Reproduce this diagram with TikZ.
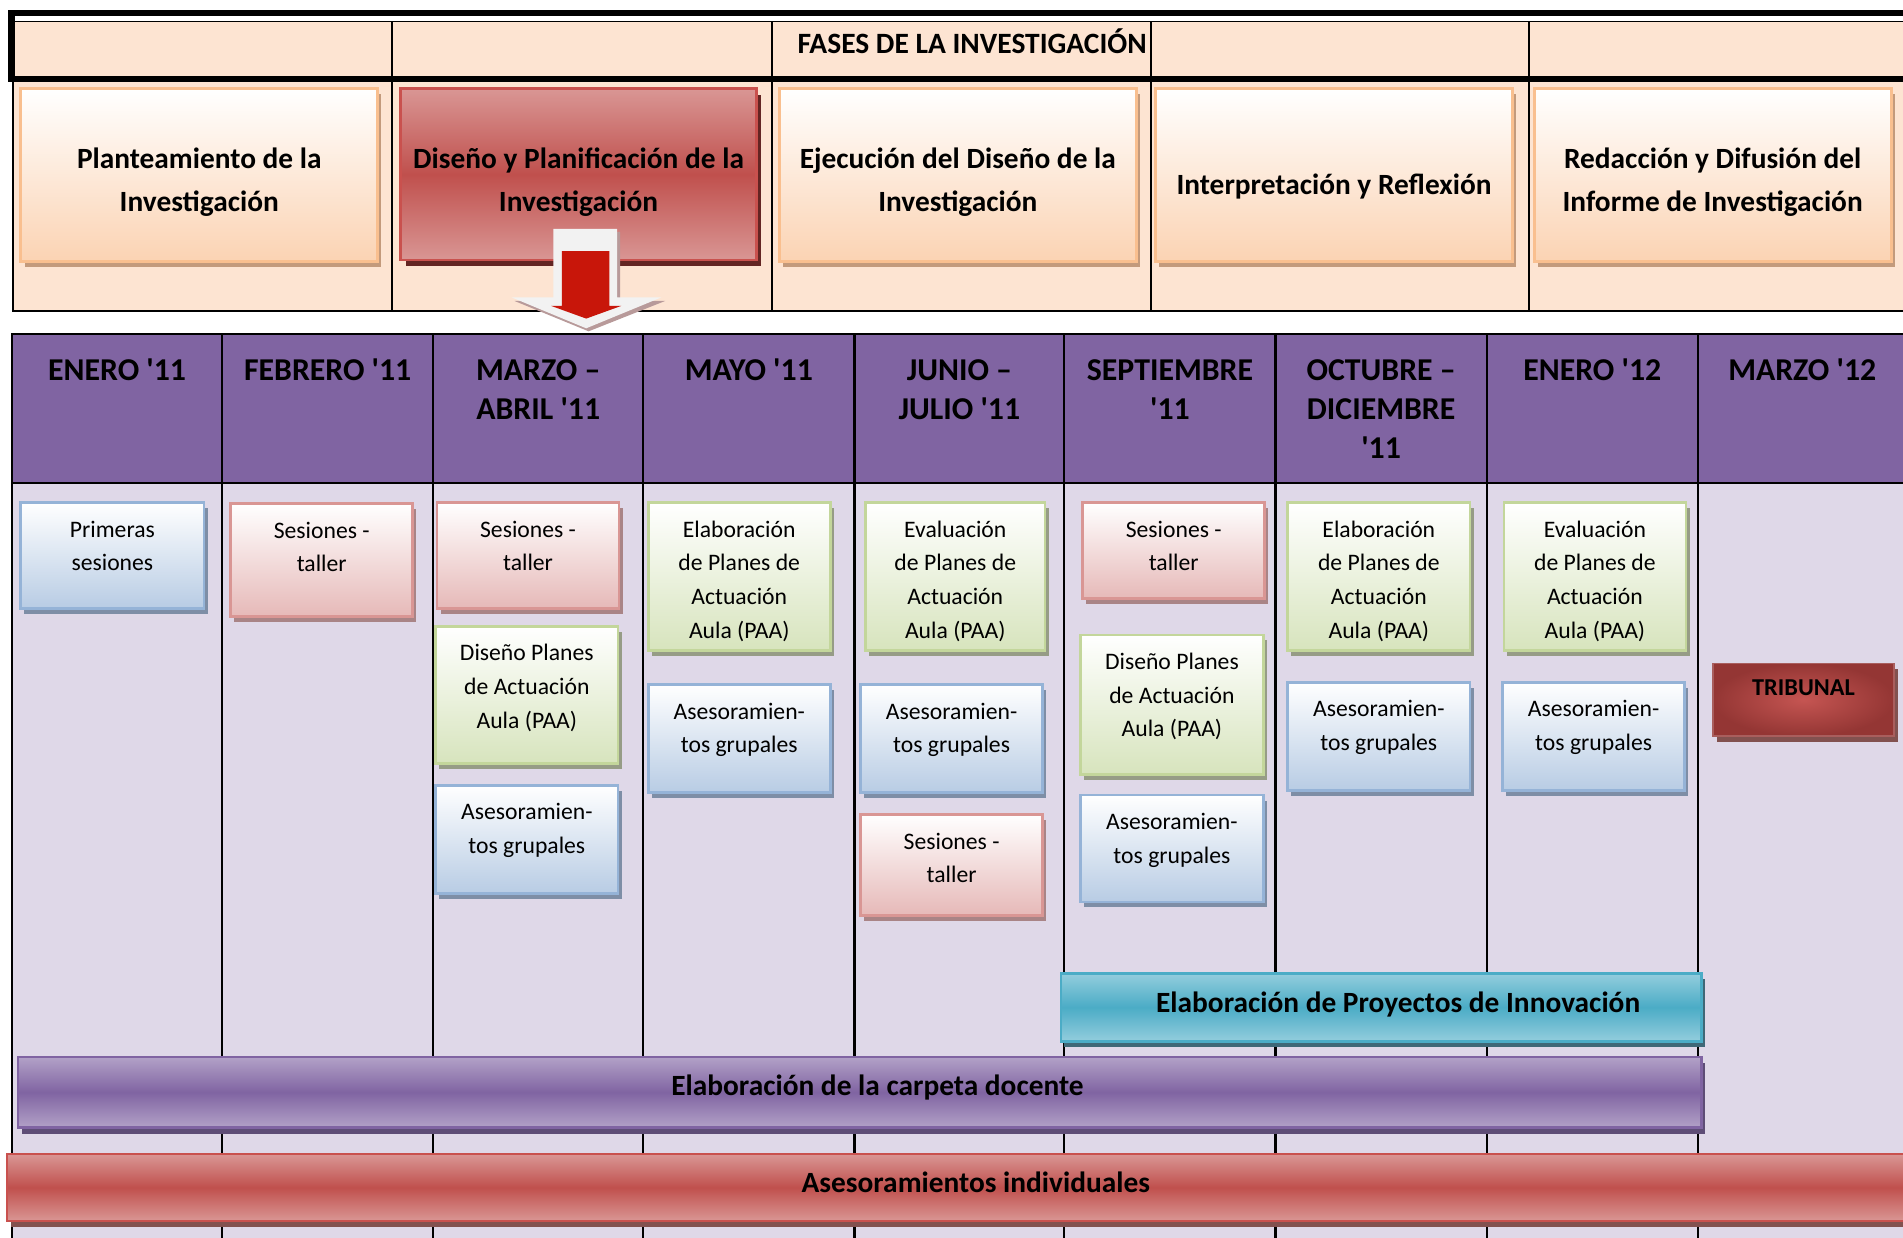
\documentclass[tikz,border=0pt]{standalone}
\usepackage{fontspec}
\setmainfont{Carlito}
\usetikzlibrary{calc,shadows}

% palette
\definecolor{peachfill}{HTML}{FDE4D2}
\definecolor{peachdeep}{HTML}{FBD3B3}
\definecolor{peachline}{HTML}{F9BF8F}
\definecolor{peachshadow}{HTML}{C39A7C}
\definecolor{redlight}{HTML}{D99694}
\definecolor{redmid}{HTML}{C0504D}
\definecolor{redline}{HTML}{C9514E}
\definecolor{redshadow}{HTML}{632523}
\definecolor{purplehead}{HTML}{8064A2}
\definecolor{purplelight}{HTML}{B2A1C7}
\definecolor{purpleshadow}{HTML}{5E4D76}
\definecolor{lavender}{HTML}{DFD8E8}
\definecolor{bluedeep}{HTML}{B8CCE4}
\definecolor{blueline}{HTML}{95B3D7}
\definecolor{blueshadow}{HTML}{7E8EA6}
\definecolor{pinkdeep}{HTML}{E6B9B8}
\definecolor{pinkline}{HTML}{D99694}
\definecolor{pinkshadow}{HTML}{A98486}
\definecolor{greendeep}{HTML}{D7E4BD}
\definecolor{greenline}{HTML}{C3D69B}
\definecolor{greenshadow}{HTML}{969C86}
\definecolor{teallight}{HTML}{93CDDD}
\definecolor{tealmid}{HTML}{4BACC6}
\definecolor{tealshadow}{HTML}{3F6877}
\definecolor{tribouter}{HTML}{943634}
\definecolor{tribinner}{HTML}{C55552}
\definecolor{arrowlight}{HTML}{F2F2F2}
\definecolor{arrowshade}{HTML}{B89A9A}
\definecolor{arrowred}{HTML}{C8160A}

% straight apostrophe for the year abbreviations
\newcommand\yr{\textquotesingle}

% one activity box of the timeline with its centred caption
\newcommand\taskbox[7]{%
  \node[#2, minimum width=#5pt, minimum height=#6pt] (#1) at (#3,#4) {};
  \node[boxtext] (#1-t) at ($(#1.north)+(0,10)$) {\strut #7};
}

\begin{document}
\begin{tikzpicture}[x=1pt,y=-1pt,
  taskbase/.style={draw, line width=2.2pt, inner sep=0pt, anchor=north west},
  bluebox/.style={taskbase, draw=blueline, top color=white, bottom color=bluedeep,
    drop shadow={shadow xshift=3pt, shadow yshift=-4.5pt, fill=blueshadow, opacity=1}},
  pinkbox/.style={taskbase, draw=pinkline, top color=white, bottom color=pinkdeep,
    drop shadow={shadow xshift=3pt, shadow yshift=-4.5pt, fill=pinkshadow, opacity=1}},
  greenbox/.style={taskbase, draw=greenline, top color=white, bottom color=greendeep,
    drop shadow={shadow xshift=3pt, shadow yshift=-4.5pt, fill=greenshadow, opacity=1}},
  boxtext/.style={font=\fontsize{19.5}{27.7}\selectfont, align=center, inner sep=0pt,
    anchor=north},
  phasebox/.style={draw=peachline, line width=2.4pt, inner sep=0pt, anchor=north west,
    top color=white, bottom color=peachdeep,
    drop shadow={shadow xshift=3pt, shadow yshift=-4.5pt, fill=peachshadow, opacity=1}},
  phasecur/.style={draw=redline, line width=2.4pt, inner sep=0pt, anchor=north west,
    top color=redlight, bottom color=redlight, middle color=redmid,
    drop shadow={shadow xshift=4pt, shadow yshift=-5pt, fill=redshadow, opacity=1}},
  phasetext/.style={font=\bfseries\fontsize{24.2}{35}\selectfont, align=center,
    inner sep=0pt, anchor=north},
  monthtext/.style={font=\bfseries\fontsize{26.2}{32}\selectfont, align=center,
    inner sep=0pt, anchor=north},
  barbase/.style={line width=2pt, inner sep=0pt, anchor=north west},
  bartext/.style={font=\bfseries\fontsize{24.2}{28}\selectfont, inner sep=0pt, anchor=base},
  grid/.style={line width=1.8pt, black}
]
\clip (0,0) rectangle (1568,1020);

% ---------- research phases table ----------
\fill[peachfill] (10,17) rectangle (1568,256);
\draw[line width=1.2pt] (10,17.5) -- (1568,17.5);
\draw[line width=1.6pt] (10.5,65) -- (10.5,256) -- (1568,256);
\foreach \cx in {323,636,948,1260}
  \draw[line width=1.6pt] (\cx,17.5) -- (\cx,256);
\draw[line width=5pt, line join=miter] (1568,10.5) -- (9.5,10.5) -- (9.5,65) -- (1568,65);

\node[font=\bfseries\fontsize{24.3}{28}\selectfont, inner sep=0pt, anchor=base]
  (fases) at (801,44) {FASES DE LA INVESTIGACIÓN};

\node[phasebox, minimum width=294pt, minimum height=142pt] (p1) at (16,72) {};
\node[phasecur, minimum width=293pt, minimum height=141pt] (p2) at (329,72) {};
\node[phasebox, minimum width=294pt, minimum height=142pt] (p3) at (641,72) {};
\node[phasebox, minimum width=294pt, minimum height=142pt] (p4) at (951,72) {};
\node[phasebox, minimum width=294pt, minimum height=142pt] (p5) at (1263,72) {};

\node[phasetext] (p1-t) at ($(p1.north)+(0,42.2)$) {\strut Planteamiento de la\\Investigación};
\node[phasetext] (p2-t) at ($(p2.north)+(0,42.2)$) {\strut Diseño y Planificación de la\\Investigación};
\node[phasetext] (p3-t) at ($(p3.north)+(0,42.2)$) {\strut Ejecución del Diseño de la\\Investigación};
\node[font=\bfseries\fontsize{24.2}{35}\selectfont, inner sep=0pt, anchor=base]
  (p4-t) at ($(p4.north)+(0,88)$) {Interpretación y Reflexión};
\node[phasetext] (p5-t) at ($(p5.north)+(0,42.2)$) {\strut Redacción y Difusión del\\Informe de Investigación};

% arrow from the current phase down to the calendar
\fill[arrowshade] (459,191) -- (511,191) -- (511,248) -- (548,248) -- (485,273)
  -- (424,248) -- (459,248) -- cycle;
\fill[arrowlight] (456,188.5) -- (508.5,188.5) -- (508.5,245) -- (545,245)
  -- (483,270.5) -- (421.5,245) -- (456,245) -- cycle;
\fill[arrowred] (463,207) -- (502,207) -- (502,252) -- (512,252) -- (483,262.5)
  -- (454,252) -- (463,252) -- cycle;

% ---------- calendar table ----------
\fill[purplehead] (10,275) rectangle (1568,398);
\fill[lavender] (10,398) rectangle (1568,1020);
\draw[grid] (1568,275) -- (10,275) -- (10,1020);
\draw[grid] (10,398) -- (1568,398);
\foreach \cx in {183,357,530,704,877,1051,1225,1399}
  \draw[grid] (\cx,275) -- (\cx,1020);

\node[monthtext] (m1) at (96.5,291.2) {\strut ENERO \yr11};
\node[monthtext] (m2) at (270,291.2) {\strut FEBRERO \yr11};
\node[monthtext] (m3) at (443.5,291.2) {\strut MARZO –\\ABRIL \yr11};
\node[monthtext] (m4) at (617,291.2) {\strut MAYO \yr11};
\node[monthtext] (m5) at (790.5,291.2) {\strut JUNIO –\\JULIO \yr11};
\node[monthtext] (m6) at (964,291.2) {\strut SEPTIEMBRE\\\yr11};
\node[monthtext] (m7) at (1138,291.2) {\strut OCTUBRE –\\DICIEMBRE\\\yr11};
\node[monthtext] (m8) at (1312,291.2) {\strut ENERO \yr12};
\node[monthtext] (m9) at (1485,291.2) {\strut MARZO \yr12};

% January 2011
\taskbox{a1}{bluebox}{16}{413}{151}{87}{Primeras\\sesiones}
% February 2011
\taskbox{b1}{pinkbox}{189}{414}{150}{93}{Sesiones -\\taller}
% March - April 2011
\taskbox{c1}{pinkbox}{359}{413}{150}{87}{Sesiones -\\taller}
\taskbox{c2}{greenbox}{358}{515}{150}{113}{Diseño Planes\\de Actuación\\Aula (PAA)}
\taskbox{c3}{bluebox}{358}{646}{150}{89}{Asesoramien-\\tos grupales}
% May 2011
\taskbox{d1}{greenbox}{533}{413}{150}{122}{Elaboración\\de Planes de\\Actuación\\Aula (PAA)}
\taskbox{d2}{bluebox}{533}{563}{150}{89}{Asesoramien-\\tos grupales}
% June - July 2011
\taskbox{e1}{greenbox}{712}{413}{148}{122}{Evaluación\\de Planes de\\Actuación\\Aula (PAA)}
\taskbox{e2}{bluebox}{708}{563}{150}{89}{Asesoramien-\\tos grupales}
\taskbox{e3}{pinkbox}{708}{670}{150}{83}{Sesiones -\\taller}
% September 2011
\taskbox{f1}{pinkbox}{891}{413}{150}{79}{Sesiones -\\taller}
\taskbox{f2}{greenbox}{889}{522}{151}{115}{Diseño Planes\\de Actuación\\Aula (PAA)}
\taskbox{f3}{bluebox}{889}{654}{151}{88}{Asesoramien-\\tos grupales}
% October - December 2011
\taskbox{g1}{greenbox}{1060}{413}{150}{122}{Elaboración\\de Planes de\\Actuación\\Aula (PAA)}
\taskbox{g2}{bluebox}{1060}{561}{150}{89}{Asesoramien-\\tos grupales}
% January 2012
\taskbox{h1}{greenbox}{1238}{413}{150}{122}{Evaluación\\de Planes de\\Actuación\\Aula (PAA)}
\taskbox{h2}{bluebox}{1237}{561}{150}{89}{Asesoramien-\\tos grupales}
% March 2012
\node[draw=tribouter!80!white, line width=1pt, inner sep=0pt, anchor=north west,
  inner color=tribinner, outer color=tribouter,
  minimum width=149pt, minimum height=60pt,
  drop shadow={shadow xshift=3.5pt, shadow yshift=-4.5pt, fill=redshadow!80!white, opacity=1}]
  (tr) at (1411,546) {};
\node[font=\bfseries\fontsize{20}{24}\selectfont, inner sep=0pt, anchor=base]
  (tr-t) at ($(tr.north)+(0,27)$) {TRIBUNAL};

% long-running activities
\node[barbase, draw=tealmid, top color=teallight, bottom color=teallight, middle color=tealmid,
  minimum width=528pt, minimum height=56pt,
  drop shadow={shadow xshift=3pt, shadow yshift=-5pt, fill=tealshadow, opacity=1}]
  (proy) at (873,801) {};
\node[bartext] (proy-t) at (1152,834.4) {Elaboración de Proyectos de Innovación};

\node[barbase, draw=purplehead, top color=purplelight, bottom color=purplelight, middle color=purplehead,
  minimum width=1387pt, minimum height=58pt,
  drop shadow={shadow xshift=3pt, shadow yshift=-5pt, fill=purpleshadow, opacity=1}]
  (carp) at (14,870) {};
\node[bartext] (carp-t) at (723,902.4) {Elaboración de la carpeta docente};

\node[barbase, draw=redline, top color=redlight, bottom color=redlight, middle color=redmid,
  minimum width=1600pt, minimum height=55pt,
  drop shadow={shadow xshift=3pt, shadow yshift=-5pt, fill=redshadow!80!white, opacity=1}]
  (indiv) at (5,950) {};
\node[bartext] (indiv-t) at (804,982.4) {Asesoramientos individuales};
\end{tikzpicture}
\end{document}
